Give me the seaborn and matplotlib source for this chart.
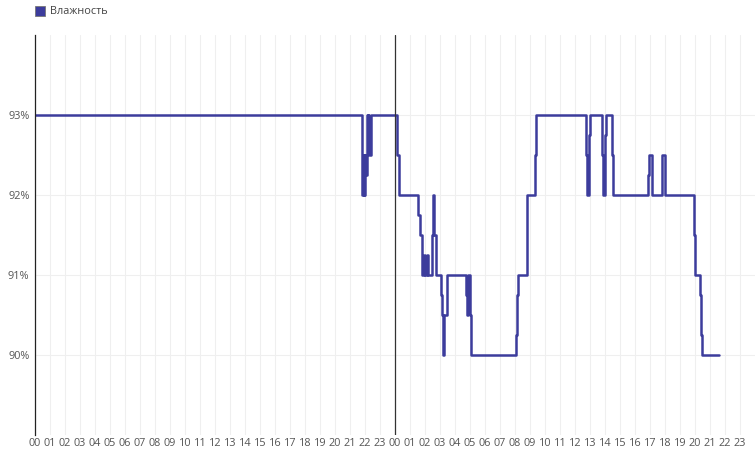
import matplotlib
matplotlib.use("Agg")
import matplotlib.pyplot as plt
import seaborn as sns
import pandas as pd

# change points of the humidity series: hours since midnight of day 1, value in %
hours = [0.0, 21.77, 21.83, 21.9, 21.95, 22.0, 22.03, 22.1, 22.17, 22.23, 22.27, 22.37,
         24.15, 24.25,
         25.55, 25.67, 25.8, 25.93, 26.0, 26.1, 26.17, 26.47, 26.53, 26.63, 26.7,
         27.05, 27.13, 27.17, 27.2, 27.27, 27.45,
         28.71, 28.77, 28.87, 28.97, 29.05,
         32.07, 32.13, 32.2, 32.8, 32.83, 33.33, 33.4,
         36.73, 36.82, 36.9, 37.0, 37.78, 37.87, 37.97, 38.07, 38.45, 38.55,
         40.87, 40.93, 41.1, 41.15, 41.78, 41.83, 41.97, 42.0,
         43.93, 44.0, 44.33, 44.4, 44.47, 45.6]
humidity = [93, 92.5, 92, 92.5, 92, 92.5, 92.25, 93, 92.75, 93, 92.5, 93,
            92.5, 92,
            91.75, 91.5, 91, 91.25, 91, 91.25, 91, 91.5, 92, 91.5, 91,
            90.75, 90.5, 90.25, 90, 90.5, 91,
            90.75, 90.5, 91, 90.5, 90,
            90.25, 90.75, 91, 91.5, 92, 92.5, 93,
            92.5, 92, 92.75, 93, 92.5, 92, 92.75, 93, 92.5, 92,
            92.25, 92.5, 92.25, 92, 92.25, 92.5, 92.25, 92,
            91.5, 91, 90.75, 90.25, 90, 90]
hour_labels = ["%02d" % h for h in range(24)] * 2
y_ticks = [90, 91, 92, 93]

df = pd.DataFrame({"hour": hours, "humidity": humidity})

sns.set_style("white")
plt.rcParams["font.family"] = ["Open Sans", "DejaVu Sans"]

fig = plt.figure(figsize=(7.55, 4.51), dpi=100)
ax = fig.add_axes([35 / 755, 16 / 451, 720 / 755, 400 / 451])

line_color = "#3c3c9c"
sns.lineplot(data=df, x="hour", y="humidity", ax=ax, color=line_color,
             drawstyle="steps-post", linewidth=1.8, label="Влажность")

ax.set_xlim(0, 48)
ax.set_ylim(89, 94)
ax.set_xticks(range(48))
ax.set_xticklabels(hour_labels)
ax.set_yticks(y_ticks)
ax.set_yticklabels(["%d%%" % v for v in y_ticks])
ax.grid(True, color="#efefef", linewidth=0.8)
ax.set_axisbelow(True)
ax.tick_params(axis="x", length=0, labelsize=7.8, labelcolor="#555555", pad=2.5)
ax.tick_params(axis="y", length=0, labelsize=7.8, labelcolor="#555555", pad=4)
ax.set_xlabel("")
ax.set_ylabel("")

for side in ["top", "right", "bottom"]:
    ax.spines[side].set_visible(False)
ax.spines["left"].set_color("#222222")
ax.spines["left"].set_linewidth(0.9)

# day boundary
ax.axvline(24, color="#333333", linewidth=0.9)

ax.legend_.remove()
fig.patches.append(plt.Rectangle((35 / 755, 1 - 16 / 451), 10 / 755, 10 / 451,
                                 transform=fig.transFigure, facecolor="#3c3c9c",
                                 edgecolor="#777777", linewidth=0.6))
fig.text(50 / 755, 1 - 11 / 451, "Влажность", fontsize=7.8, color="#444444",
         va="center", ha="left")

fig.savefig("out.png", dpi=100)
